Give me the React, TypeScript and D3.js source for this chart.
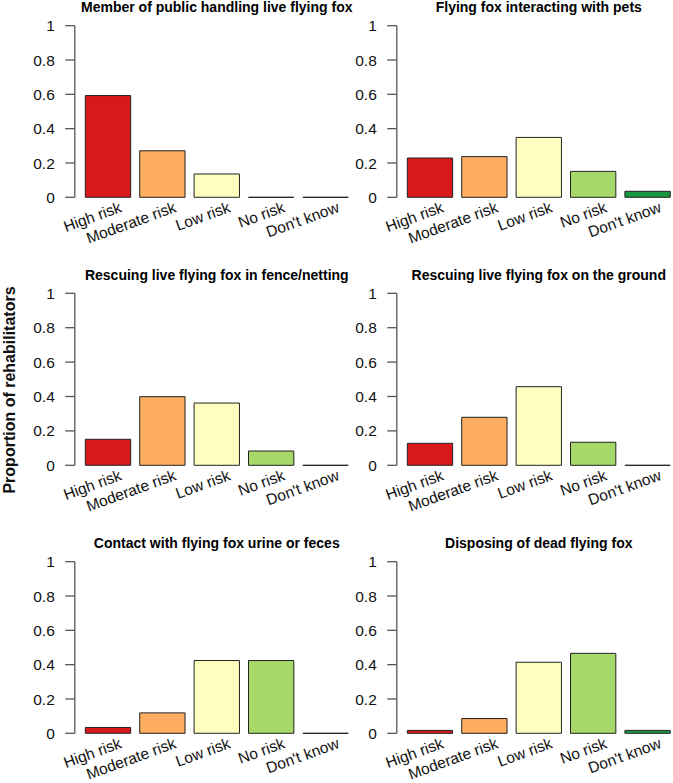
import React from "react";
import * as d3 from "d3";

const categories = ["High risk", "Moderate risk", "Low risk", "No risk", "Don't know"];
const riskColors = ["#D7191C", "#FDAE61", "#FFFFBF", "#A6D96A", "#1A9641"];

const panelTitles = [
  "Member of public handling live flying fox",
  "Flying fox interacting with pets",
  "Rescuing live flying fox in fence/netting",
  "Rescuing live flying fox on the ground",
  "Contact with flying fox urine or feces",
  "Disposing of dead flying fox",
];

const memberPublic = [0.593, 0.271, 0.136, 0, 0];
const petsInteraction = [0.229, 0.237, 0.349, 0.151, 0.035];
const fenceRescue = [0.151, 0.399, 0.362, 0.083, 0];
const groundRescue = [0.128, 0.279, 0.457, 0.134, 0];
const urineContact = [0.034, 0.119, 0.424, 0.424, 0];
const deadDisposal = [0.017, 0.086, 0.414, 0.466, 0.017];

const panelValues = [memberPublic, petsInteraction, fenceRescue, groundRescue, urineContact, deadDisposal];

const yTicks = [0, 0.2, 0.4, 0.6, 0.8, 1];
const yTickLabels = ["0", "0.2", "0.4", "0.6", "0.8", "1"];
const yAxisTitle = "Proportion of rehabilitators";

const W = 673;
const H = 783;
const FONT = "'Liberation Sans', Arial, Helvetica, sans-serif";

// layout
const colLeft = [74.8, 396.8];
const unitPx = 45.33;
const rowZero = [197.3, 465.3, 733.3];
const rowOne = [25.7, 293.3, 561.7];

function Panel({ idx }: { idx: number }) {
  const col = idx % 2;
  const row = Math.floor(idx / 2);
  const values = panelValues[idx];
  const x0 = colLeft[col];
  const x = d3.scaleLinear().domain([-0.032, 6.232]).range([x0, x0 + 6.264 * unitPx]);
  const y = d3.scaleLinear().domain([0, 1]).range([rowZero[row], rowOne[row]]);
  const axisX = x(-0.032);
  const bars = values.map((v, i) => {
    const l = 0.2 + i * 1.2;
    const r = l + 1;
    const p = d3.path();
    p.moveTo(x(l), y(0));
    p.lineTo(x(r), y(0));
    p.lineTo(x(r), y(v));
    p.lineTo(x(l), y(v));
    p.closePath();
    return { d: p.toString(), color: riskColors[i], center: (l + r) / 2 };
  });
  const plotCenter = (x(-0.032) + x(6.232)) / 2;
  return (
    <g>
      <text
        x={plotCenter}
        y={y(1) - 13.7}
        textAnchor="middle"
        fontFamily={FONT}
        fontWeight="bold"
        fontSize={14}
        fill="#000"
      >
        {panelTitles[idx]}
      </text>
      {/* y axis */}
      <line x1={axisX} x2={axisX} y1={y(0)} y2={y(1)} stroke="#555" strokeWidth={1.3} />
      {yTicks.map((t, i) => (
        <g key={i}>
          <line x1={axisX - 9.5} x2={axisX} y1={y(t)} y2={y(t)} stroke="#555" strokeWidth={1.3} />
          <text
            x={axisX - 20}
            y={y(t)}
            dy="0.36em"
            textAnchor="end"
            fontFamily={FONT}
            fontSize={15.5}
            fill="#111"
          >
            {yTickLabels[i]}
          </text>
        </g>
      ))}
      {bars.map((b, i) => (
        <path key={i} d={b.d} fill={b.color} stroke="#222" strokeWidth={1} />
      ))}
      {bars.map((b, i) => {
        const ax = x(b.center + 0.28);
        const ay = y(0) + 9;
        return (
          <text
            key={"l" + i}
            x={ax}
            y={ay}
            dy="0.36em"
            textAnchor="end"
            fontFamily={FONT}
            fontSize={15.5}
            fill="#111"
            transform={`rotate(-20 ${ax} ${ay})`}
          >
            {categories[i]}
          </text>
        );
      })}
    </g>
  );
}

export default function App() {
  return (
    <svg
      width={W}
      height={H}
      viewBox={`0 0 ${W} ${H}`}
      style={{ position: "absolute", left: 0, top: 0, background: "#fff", display: "block" }}
    >
      <rect x={0} y={0} width={W} height={H} fill="#fff" />
      {panelValues.map((_, i) => (
        <Panel key={i} idx={i} />
      ))}
      <text
        x={15}
        y={390}
        transform="rotate(-90 15 390)"
        textAnchor="middle"
        fontFamily={FONT}
        fontWeight="bold"
        fontSize={16}
        fill="#111"
      >
        {yAxisTitle}
      </text>
    </svg>
  );
}
